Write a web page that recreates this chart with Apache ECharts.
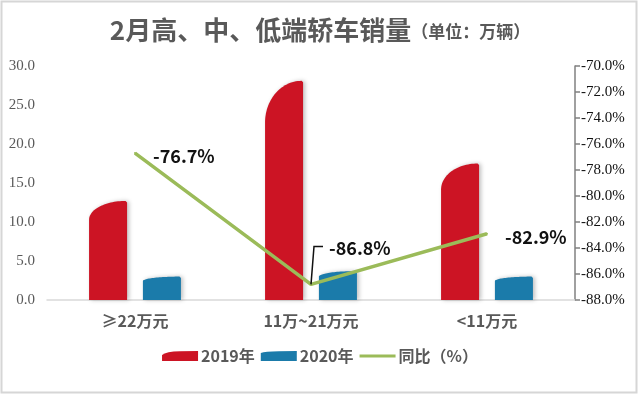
<!DOCTYPE html>
<html><head><meta charset="utf-8">
<script src="https://cdn.jsdelivr.net/npm/echarts@6/dist/echarts.min.js"></script>
<style>html,body{margin:0;padding:0;background:#fff}#c{width:640px;height:396px}</style>
</head><body><div id="c"></div>
<script>
const categories = ['≥22万元', '11万~21万元', '<11万元'];
const sales2019 = [12.7, 28.1, 17.5];
const sales2020 = [3.0, 3.7, 3.0];
const yoy = [-76.7, -86.8, -82.9];
const seriesNames = ['2019年', '2020年', '同比（%）'];
const leftAxisTicks = [0, 5, 10, 15, 20, 25, 30];
const rightAxisTicks = [-88, -86, -84, -82, -80, -78, -76, -74, -72, -70];

const RED = '#CC1424', BLUE = '#1B7BAA', GREEN = '#9BBB59';
const CJK = '"Noto Sans CJK SC", "Noto Sans", sans-serif';
const SERIF = '"Liberation Serif", "DejaVu Serif", serif';

function barShape(offsetFrac, widthFrac, color) {
  return function (params, api) {
    const ci = api.value(0), v = api.value(1);
    const top = api.coord([ci, v]);
    const base = api.coord([ci, 0]);
    const band = api.size([1, 0])[0];
    const w = band * widthFrac;
    const cx = top[0] + band * offsetFrac;
    const x0 = cx - w / 2, x1 = cx + w / 2;
    const h = base[1] - top[1];
    const c = h * 0.19;
    const pts = [[x0, base[1]], [x0, top[1] + c]];
    const N = 30;
    for (let i = 1; i <= N; i++) {
      const t = i / N * Math.PI / 2;
      pts.push([x1 - 1.5 - (w - 1.5) * Math.cos(t), top[1] + c - c * Math.sin(t)]);
    }
    pts.push([x1, top[1] + 1.5]);
    pts.push([x1, base[1]]);
    return {
      type: 'polygon', shape: { points: pts },
      style: { fill: color, shadowBlur: 4, shadowOffsetX: 2, shadowColor: 'rgba(0,0,0,0.25)' }
    };
  };
}

const labelOffsets = [[0, 3], [0, -36], [0, 3]];

const chart = echarts.init(document.getElementById('c'), null, { renderer: 'canvas' });
const option = {
  backgroundColor: '#fff',
  animation: false,
  title: {
    text: '{a|2月高、中、低端轿车销量}{b|（单位：万辆）}',
    left: 'center', top: 12,
    textStyle: {
      rich: {
        a: { fontFamily: CJK, fontSize: 26, fontWeight: 'bold', color: '#595959' },
        b: { fontFamily: CJK, fontSize: 17, fontWeight: 'bold', color: '#595959', padding: [4, 0, 0, 0] }
      }
    }
  },
  legend: {
    bottom: 27, left: 'center', itemGap: 6, itemWidth: 36, itemHeight: 10,
    textStyle: { fontFamily: CJK, fontSize: 16, fontWeight: 'bold', color: '#595959', padding: [0, 0, 0, -2] },
    data: [
      { name: seriesNames[0], icon: 'path://M0,10 L0,4 Q4,0.6 18,0.3 L36,0 L36,10 Z', itemStyle: { color: RED } },
      { name: seriesNames[1], icon: 'path://M0,10 L0,2 Q4,0.6 18,0.3 L36,0 L36,10 Z', itemStyle: { color: BLUE } },
      { name: seriesNames[2], icon: 'path://M0,0 L38,0 L38,3 L0,3 Z', itemStyle: { color: GREEN } }
    ]
  },
  grid: { left: 47, right: 65, top: 66, bottom: 96 },
  xAxis: {
    type: 'category', data: categories,
    axisLine: { lineStyle: { color: '#D9D9D9', width: 1.5 } },
    axisTick: { show: false },
    axisLabel: { fontFamily: CJK, fontSize: 16, fontWeight: 'bold', color: '#595959', margin: 13 }
  },
  yAxis: [
    {
      type: 'value', min: leftAxisTicks[0], max: leftAxisTicks[leftAxisTicks.length - 1],
      interval: leftAxisTicks[1] - leftAxisTicks[0],
      axisLine: { show: false }, axisTick: { show: false }, splitLine: { show: false },
      axisLabel: { fontFamily: SERIF, fontSize: 15, color: '#595959', margin: 12, formatter: v => v.toFixed(1) }
    },
    {
      type: 'value', position: 'right',
      min: rightAxisTicks[0], max: rightAxisTicks[rightAxisTicks.length - 1],
      interval: rightAxisTicks[1] - rightAxisTicks[0],
      axisLine: { show: true, lineStyle: { color: '#808080', width: 1.5 } },
      axisTick: { show: true, length: 5, lineStyle: { color: '#808080', width: 1.5 } },
      splitLine: { show: false },
      axisLabel: { fontFamily: SERIF, fontSize: 15, color: '#111', margin: 6, formatter: v => v.toFixed(1) + '%' }
    }
  ],
  series: [
    {
      name: seriesNames[0], type: 'custom', yAxisIndex: 0,
      renderItem: barShape(-0.153, 0.216, RED),
      encode: { x: 0, y: 1 },
      itemStyle: { color: RED },
      data: sales2019.map((v, i) => [i, v])
    },
    {
      name: seriesNames[1], type: 'custom', yAxisIndex: 0,
      renderItem: barShape(0.153, 0.216, BLUE),
      encode: { x: 0, y: 1 },
      itemStyle: { color: BLUE },
      data: sales2020.map((v, i) => [i, v])
    },
    {
      name: seriesNames[2], type: 'line', yAxisIndex: 1, z: 5,
      symbol: 'circle', symbolSize: 2,
      itemStyle: { color: GREEN },
      lineStyle: { color: GREEN, width: 3.5 },
      data: yoy.map((v, i) => ({
        value: v,
        label: {
          show: true, position: 'right', distance: 17, offset: labelOffsets[i],
          fontFamily: CJK, fontSize: 18, fontWeight: 'bold', color: '#111',
          formatter: p => p.value.toFixed(1) + '%'
        }
      }))
    }
  ]
};
chart.setOption(option);

const p = chart.convertToPixel({ seriesIndex: 2 }, [1, yoy[1]]);
chart.setOption({
  graphic: [
    {
      type: 'polyline', z: 10,
      shape: { points: [[p[0], p[1]], [p[0] + 3, p[1] - 38], [p[0] + 12, p[1] - 38]] },
      style: { stroke: '#111', lineWidth: 1.5, fill: null }
    },
    {
      type: 'rect', z: -1, silent: true,
      shape: { x: 1.5, y: 1.5, width: 635, height: 391 },
      style: { fill: null, stroke: '#D6D6D6', lineWidth: 2 }
    }
  ]
});
</script>
</body></html>
